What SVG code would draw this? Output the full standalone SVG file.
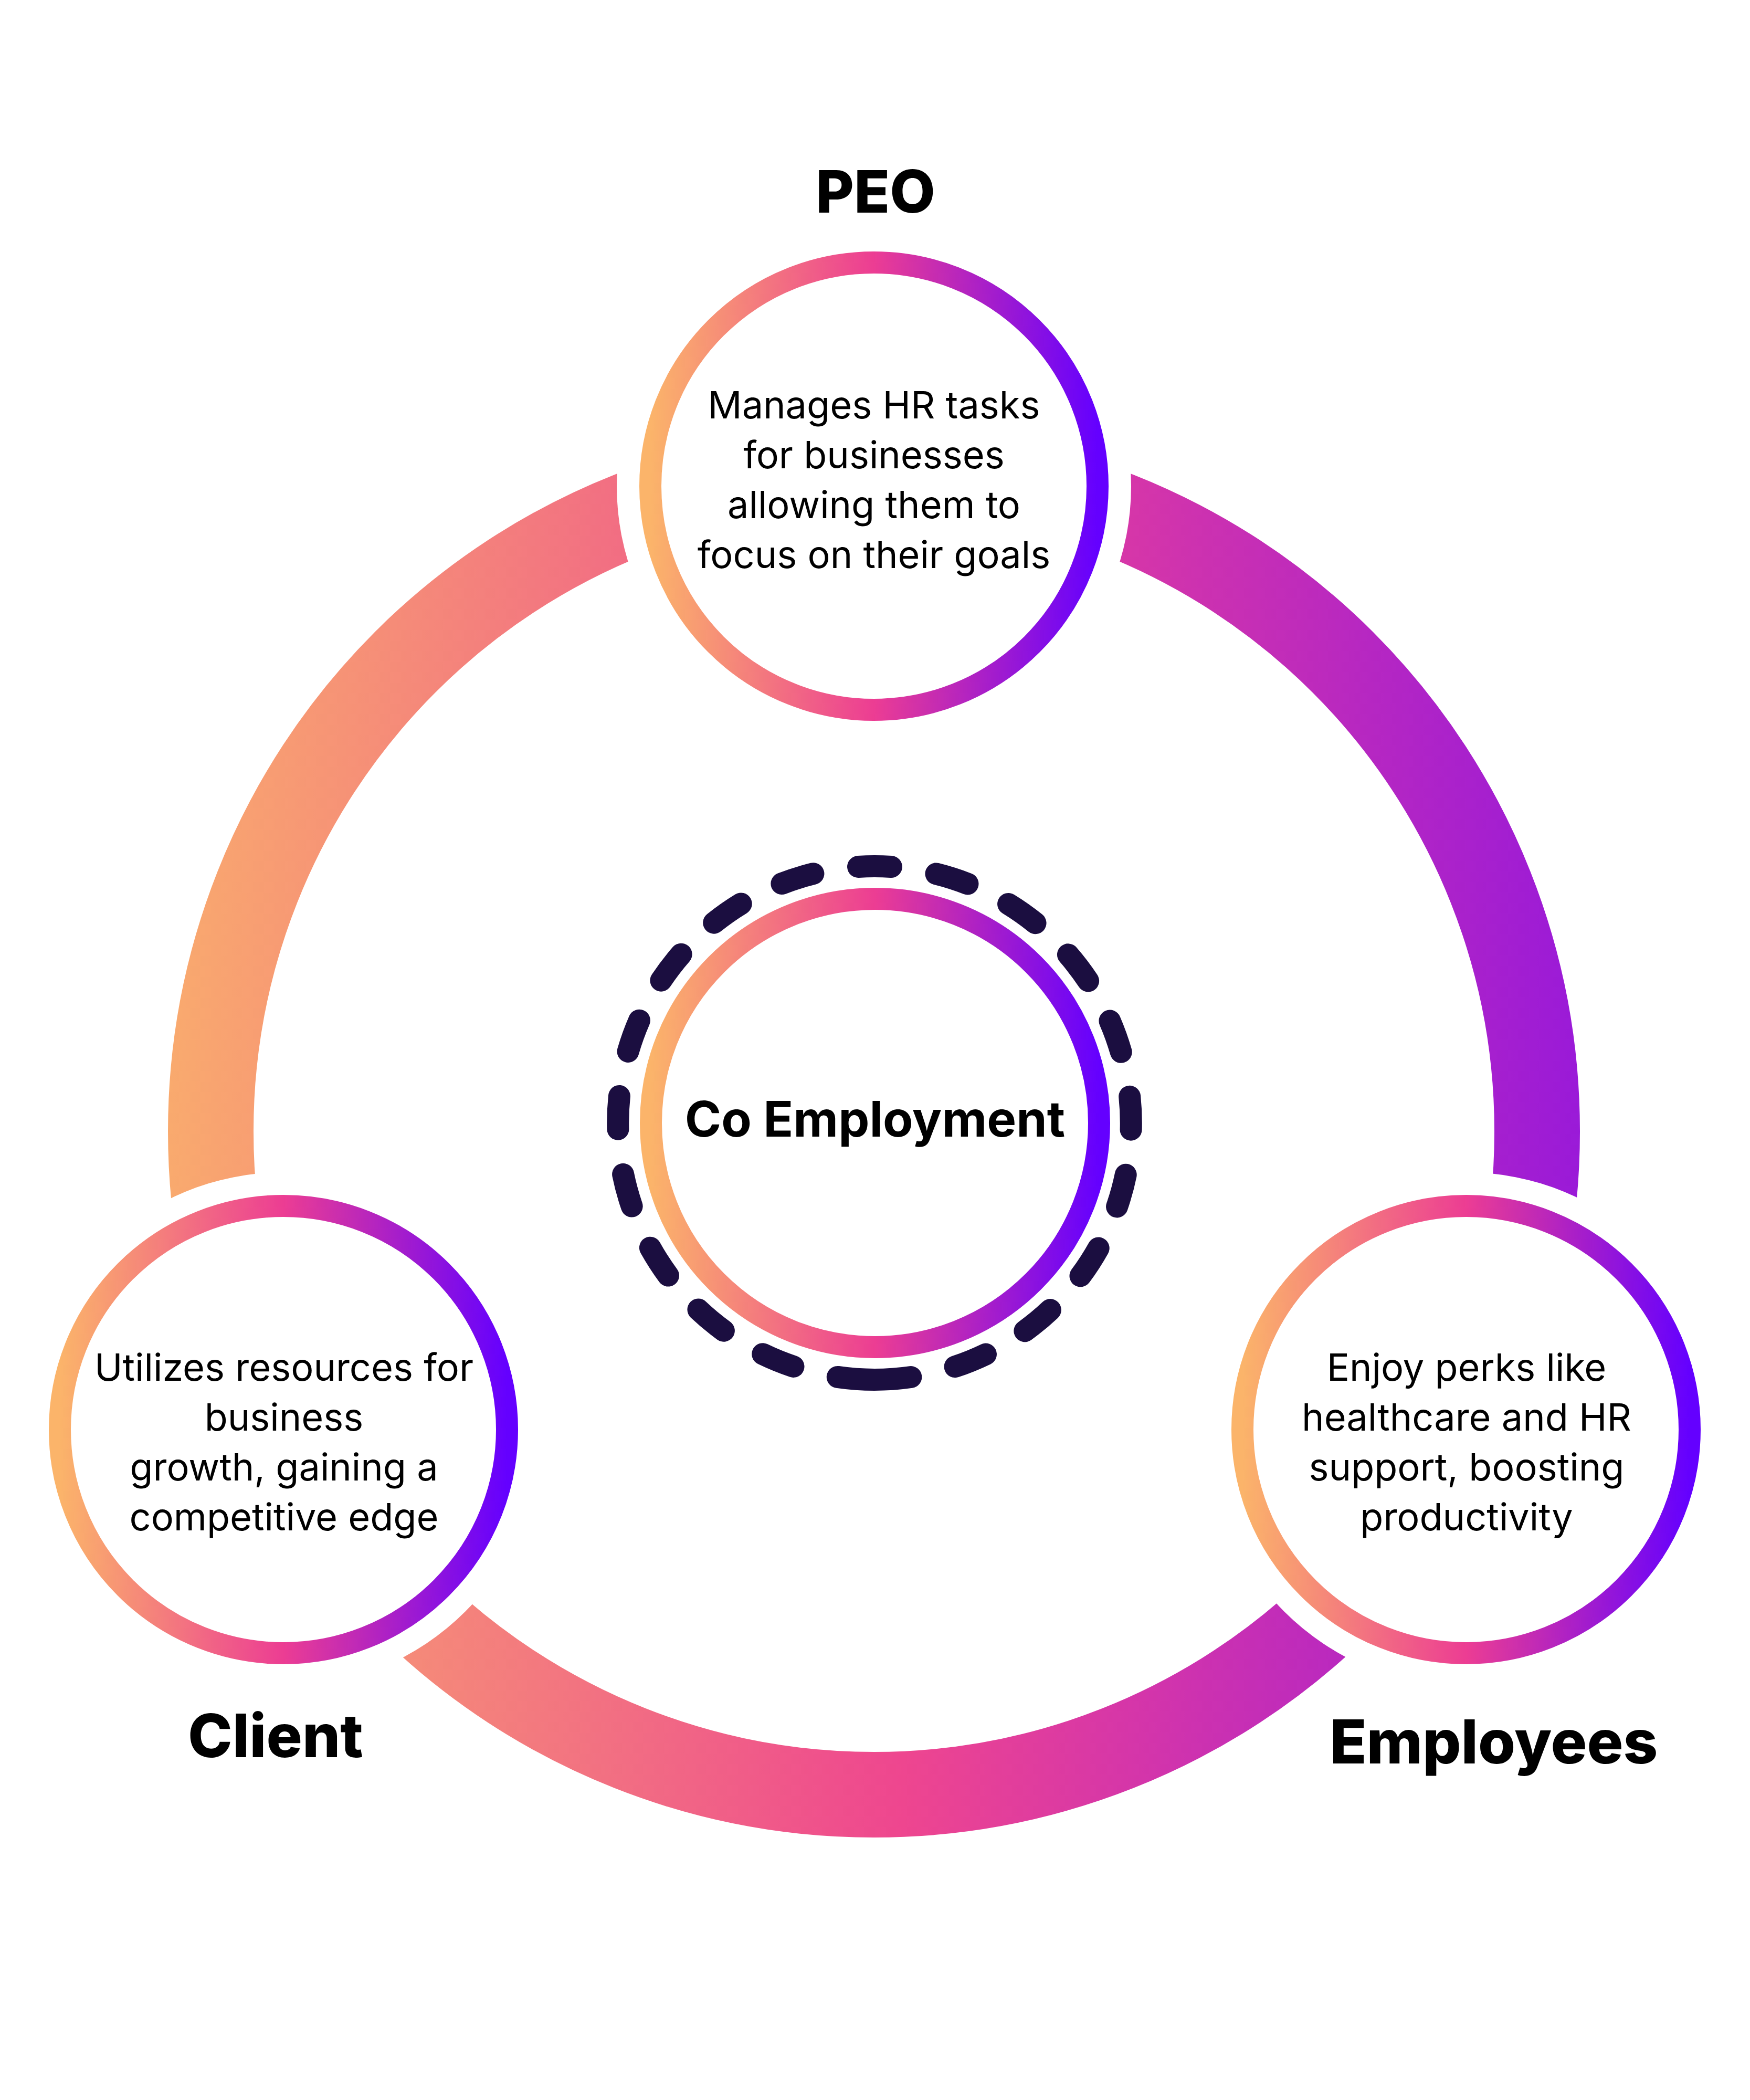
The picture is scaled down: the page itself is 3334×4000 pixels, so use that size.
<svg xmlns="http://www.w3.org/2000/svg" width="3334" height="4000" viewBox="0 0 3334 4000">
  <style>
    .node-ring { fill: #FFFFFF; stroke: url(#nodeGrad); stroke-width: 42; }
    .desc { font-family: Inter, "Noto Sans", "Liberation Sans", sans-serif; font-size: 72px; fill: #000000; text-anchor: middle; }
    .title { font-family: Inter, "Liberation Sans", sans-serif; font-weight: 800; fill: #000000; text-anchor: middle; }
    .center-title { font-family: Inter, Roboto, "Liberation Sans", sans-serif; font-weight: 700; font-size: 94px; fill: #000000; text-anchor: middle; }
  </style>
  <defs>
    <linearGradient id="nodeGrad" x1="0" y1="0" x2="1" y2="0">
      <stop offset="0" stop-color="#FBB46A"/>
      <stop offset="0.5" stop-color="#EC3D93"/>
      <stop offset="1" stop-color="#6400FF"/>
    </linearGradient>
    <linearGradient id="ringGrad" gradientUnits="userSpaceOnUse" x1="320" y1="0" x2="3010" y2="0">
      <stop offset="0" stop-color="#F9AA6E"/>
      <stop offset="0.31" stop-color="#F27082"/>
      <stop offset="0.52" stop-color="#EE468F"/>
      <stop offset="0.69" stop-color="#D435AA"/>
      <stop offset="1" stop-color="#9A1AD8"/>
    </linearGradient>
    <mask id="ringMask" maskUnits="userSpaceOnUse" x="0" y="0" width="3334" height="4000">
      <rect x="0" y="0" width="3334" height="4000" fill="#FFFFFF"/>
      <circle cx="1665" cy="926" r="490" fill="#000000"/>
      <circle cx="540" cy="2723" r="490" fill="#000000"/>
      <circle cx="2793" cy="2723" r="490" fill="#000000"/>
    </mask>
  </defs>
  <rect x="0" y="0" width="3334" height="4000" fill="#FFFFFF"/>

  <g id="connectors">
    <circle cx="1665" cy="2155" r="1263.5" fill="none" stroke="url(#ringGrad)" stroke-width="163" mask="url(#ringMask)"/>
  </g>

  <g id="node-peo">
    <text class="title" x="1668" y="405" font-size="112">PEO</text>
    <circle class="node-ring" cx="1665" cy="926" r="426"/>
    <text class="desc" x="1665" y="797">Manages HR tasks</text>
    <text class="desc" x="1665" y="892">for businesses</text>
    <text class="desc" x="1665" y="987">allowing them to</text>
    <text class="desc" x="1665" y="1082">focus on their goals</text>
  </g>

  <g id="node-client">
    <circle class="node-ring" cx="540" cy="2723" r="426"/>
    <text class="desc" x="541" y="2630">Utilizes resources for</text>
    <text class="desc" x="541" y="2725">business</text>
    <text class="desc" x="541" y="2820">growth, gaining a</text>
    <text class="desc" x="541" y="2915">competitive edge</text>
    <text class="title" x="525" y="3347" font-size="114">Client</text>
  </g>

  <g id="node-employees">
    <circle class="node-ring" cx="2793" cy="2723" r="426"/>
    <text class="desc" x="2794" y="2630">Enjoy perks like</text>
    <text class="desc" x="2794" y="2725">healthcare and HR</text>
    <text class="desc" x="2794" y="2820">support, boosting</text>
    <text class="desc" x="2794" y="2915">productivity</text>
    <text class="title" x="2846" y="3359" font-size="115">Employees</text>
  </g>

  <g id="node-co-employment">
    <path d="M 1666 2628 A 489 489 0 0 1 1666 1650 A 489 489 0 0 1 1666 2628" fill="none" stroke="#1B0E40" stroke-width="42" stroke-linecap="round" stroke-dasharray="70.5 86.7 63 86.7 63 86.7 63 86.7 63 86.7 63 86.7 63 86.7 63 86.7 63 86.7 63 86.7 63 86.7 63 86.7 63 86.7 63 86.7 63 86.7 63 86.7 63 86.7 63 86.7 63 86.7 63 86.7 100"/>
    <circle class="node-ring" cx="1667" cy="2139" r="427"/>
    <text class="center-title" x="1667" y="2165">Co Employment</text>
  </g>
</svg>
